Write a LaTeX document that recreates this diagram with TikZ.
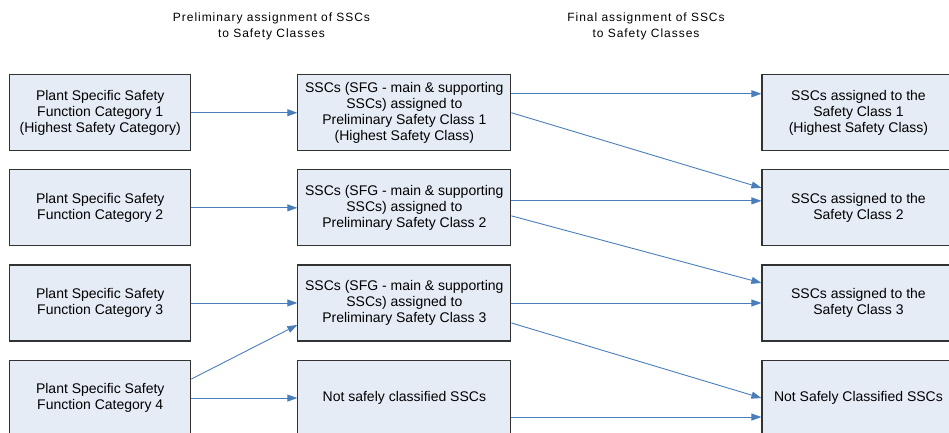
\documentclass[tikz,border=0pt]{standalone}
\usepackage{fontspec}
\setmainfont{Liberation Sans}
\newfontfamily\headfont[LetterSpace=8]{Liberation Sans}
\usetikzlibrary{matrix,arrows.meta}
\definecolor{boxfill}{RGB}{230,236,246}
\definecolor{boxline}{RGB}{50,50,50}
\definecolor{arrowblue}{RGB}{74,126,187}

\begin{document}
\begin{tikzpicture}[x=1pt,y=-1pt,
						box/.style={draw=boxline,fill=boxfill,line width=1.1pt,
						align=center,minimum height=76pt,inner sep=2pt,
						font=\fontsize{14}{16}\selectfont},
						catbox/.style={box,minimum width=181pt},
						prelbox/.style={box,minimum width=213pt},
						classbox/.style={box,minimum width=193pt},
						link/.style={draw=arrowblue,line width=0.9pt,
						-{Triangle[length=10pt,width=7pt]}},
						heading/.style={align=center,
						font=\headfont\fontsize{12}{16}\selectfont}]

		\useasboundingbox (0,0) rectangle (949,432);

		\node [heading] (t1) at (271.5,26) {Preliminary assignment of SSCs\\to Safety Classes};
		\node [heading] (t2) at (646,26) {Final assignment of SSCs\\to Safety Classes};

		\matrix (m) at (9,74) [anchor=north west,inner sep=0pt,column sep=106pt,row sep=18pt,
						nodes={anchor=center}]
		{
			\node [catbox] (f1) {Plant Specific Safety\\Function Category 1\\(Highest Safety Category)}; &
			\node [prelbox] (p1) {SSCs (SFG - main \& supporting\\SSCs) assigned to\\Preliminary Safety Class 1\\(Highest Safety Class)}; &[144pt]
			\node [classbox] (c1) {SSCs assigned to the\\Safety Class 1\\(Highest Safety Class)};\\
			\node [catbox] (f2) {Plant Specific Safety\\Function Category 2}; &
			\node [prelbox] (p2) {SSCs (SFG - main \& supporting\\SSCs) assigned to\\Preliminary Safety Class 2}; &
			\node [classbox] (c2) {SSCs assigned to the\\Safety Class 2};\\
			\node [catbox] (f3) {Plant Specific Safety\\Function Category 3}; &
			\node [prelbox] (p3) {SSCs (SFG - main \& supporting\\SSCs) assigned to\\Preliminary Safety Class 3}; &
			\node [classbox] (c3) {SSCs assigned to the\\Safety Class 3};\\
			\node [catbox] (f4) {Plant Specific Safety\\Function Category 4}; &
			\node [prelbox] (p4) {Not safely classified SSCs}; &
			\node [classbox] (c4) {Not Safely Classified SSCs};\\
		};

		\draw [link] (f1.east) -- (p1.west);
		\draw [link] (f2.east) -- (p2.west);
		\draw [link] (f3.east) -- (p3.west);
		\draw [link] ([yshift=19pt]f4.east) -- ([yshift=-22pt]p3.west);
		\draw [link] (f4.east) -- (p4.west);

		\draw [link] ([yshift=19pt]p1.east) -- ([yshift=19pt]c1.west);
		\draw [link] (p1.east) -- ([yshift=20pt]c2.west);
		\draw [link] ([yshift=7pt]p2.east) -- ([yshift=7pt]c2.west);
		\draw [link] ([yshift=-8pt]p2.east) -- ([yshift=20pt]c3.west);
		\draw [link] (p3.east) -- (c3.west);
		\draw [link] ([yshift=-20pt]p3.east) -- (c4.west);
		\draw [link] ([yshift=-19pt]p4.east) -- ([yshift=-19pt]c4.west);

	\end{tikzpicture}
\end{document}
